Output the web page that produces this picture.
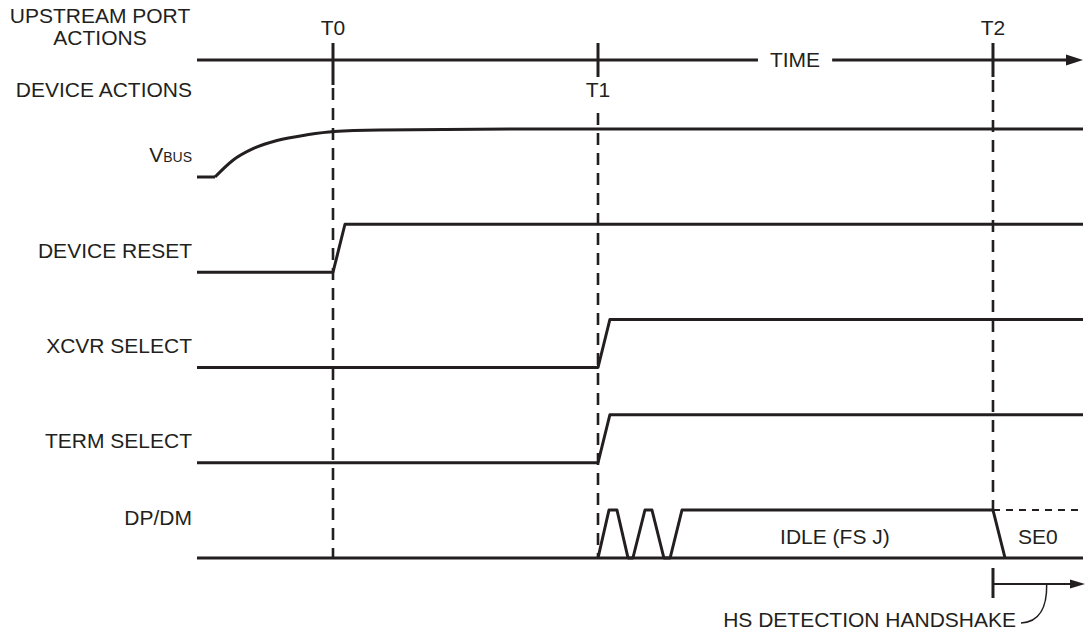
<!DOCTYPE html>
<html>
<head>
<meta charset="utf-8">
<script src="https://cdn.jsdelivr.net/npm/d3@7"></script>
<style>
	body { margin: 0; background: #fff; }
	text { font-family: "Liberation Sans", Arial, sans-serif; fill: #231f20; }
</style>
</head>
<body>
<div id="wrapper"></div>
<script>
// time is in arbitrary units, 0 = left edge of the diagram, 100 = arrow tip
const signals = ["VBUS", "DEVICE RESET", "XCVR SELECT", "TERM SELECT", "DP/DM"];
const markerNames = ["T0", "T1", "T2"];
const markerTimes = [15.35, 45.26, 89.84];

// [time, level] pairs, level 0 = low, 1 = high
const vbusWave = [
	[0, 0], [2.03, 0], [4.06, 0.35], [6.32, 0.59], [9.03, 0.76],
	[12.42, 0.88], [15.46, 0.95], [20.65, 0.98], [36.5, 1], [100, 1],
];
const resetWave = [[0, 0], [15.35, 0], [16.7, 1], [100, 1]];
const xcvrWave = [[0, 0], [45.26, 0], [46.6, 1], [100, 1]];
const termWave = [[0, 0], [45.26, 0], [46.6, 1], [100, 1]];
const dpBase = [[0, 0], [100, 0]];
const dpWave = [
	[45.26, 0], [46.5, 1], [47.4, 1], [48.65, 0],
	[49.2, 0], [50.56, 1], [51.35, 1], [52.7, 0],
	[53.4, 0], [54.74, 1], [89.84, 1], [91.2, 0],
];
const se0Wave = [[89.84, 1], [100, 1]];

const timeLabel = "TIME";
const idleLabel = "IDLE (FS J)";
const se0Label = "SE0";
const hsLabel = "HS DETECTION HANDSHAKE";

const drawChart = () => {
	const dimensions = {
		width: 1085,
		height: 633,
		left: 197,
		right: 1083,
		axisY: 60,
		firstRow: 177,
		lastRow: 558,
		levelHeight: 48,
		labelRight: 192,
	};
	const ink = "#231f20";
	const fontSize = 21;

	const svg = d3
		.select("#wrapper")
		.append("svg")
		.attr("width", dimensions.width)
		.attr("height", dimensions.height);

	// scales
	const xScale = d3
		.scaleLinear()
		.domain([0, 100])
		.range([dimensions.left, dimensions.right]);

	const rowScale = d3
		.scalePoint()
		.domain(signals)
		.range([dimensions.firstRow, dimensions.lastRow]);

	const levelScale = d3
		.scaleLinear()
		.domain([0, 1])
		.range([0, -dimensions.levelHeight]);

	const waveLine = (signal) =>
		d3
			.line()
			.x((d) => xScale(d[0]))
			.y((d) => rowScale(signal) + levelScale(d[1]));

	// header labels
	const header = svg.append("g").attr("font-size", fontSize);
	header
		.append("text")
		.attr("x", 100)
		.attr("y", 16)
		.attr("dy", "0.35em")
		.attr("text-anchor", "middle")
		.text("UPSTREAM PORT");
	header
		.append("text")
		.attr("x", 100)
		.attr("y", 38)
		.attr("dy", "0.35em")
		.attr("text-anchor", "middle")
		.text("ACTIONS");
	header
		.append("text")
		.attr("x", dimensions.labelRight)
		.attr("y", 90)
		.attr("dy", "0.35em")
		.attr("text-anchor", "end")
		.text("DEVICE ACTIONS");

	// time axis
	const arrowLen = 17;
	const axis = svg.append("g");
	axis
		.append("line")
		.attr("x1", xScale(0))
		.attr("x2", xScale(100) - arrowLen + 2)
		.attr("y1", dimensions.axisY)
		.attr("y2", dimensions.axisY)
		.attr("stroke", ink)
		.attr("stroke-width", 3);
	axis
		.append("path")
		.attr(
			"d",
			`M${xScale(100)},${dimensions.axisY} l${-arrowLen},-5.5 l0,11 Z`
		)
		.attr("fill", ink);

	const timeText = axis
		.append("text")
		.attr("x", xScale(67.5))
		.attr("y", dimensions.axisY)
		.attr("dy", "0.35em")
		.attr("text-anchor", "middle")
		.attr("font-size", fontSize)
		.text(timeLabel);
	const tb = timeText.node().getBBox();
	axis
		.insert("rect", () => timeText.node())
		.attr("x", tb.x - 12)
		.attr("y", tb.y)
		.attr("width", tb.width + 24)
		.attr("height", tb.height)
		.attr("fill", "#fff");

	// event markers
	const markers = svg
		.append("g")
		.selectAll("g")
		.data(markerTimes)
		.join("g");

	markers
		.append("line")
		.attr("x1", (d) => xScale(d))
		.attr("x2", (d) => xScale(d))
		.attr("y1", 43)
		.attr("y2", (d, i) => (i === 0 ? 85 : 77))
		.attr("stroke", ink)
		.attr("stroke-width", 3);

	markers
		.append("line")
		.attr("x1", (d) => xScale(d))
		.attr("x2", (d) => xScale(d))
		.attr("y1", (d, i) => [88, 113, 80][i])
		.attr("y2", (d, i) =>
			i === 2
				? rowScale("DP/DM") + levelScale(1)
				: rowScale("DP/DM")
		)
		.attr("stroke", ink)
		.attr("stroke-width", 2.6)
		.attr("stroke-dasharray", "12,8");

	markers
		.append("text")
		.attr("x", (d) => xScale(d))
		.attr("y", (d, i) => (i === 1 ? 90 : 28))
		.attr("dy", "0.35em")
		.attr("text-anchor", "middle")
		.attr("font-size", fontSize)
		.text((d, i) => markerNames[i]);

	// signal labels
	const labels = svg
		.append("g")
		.attr("font-size", fontSize)
		.attr("text-anchor", "end")
		.selectAll("text")
		.data(signals)
		.join("text")
		.attr("x", dimensions.labelRight)
		.attr("y", (d) => rowScale(d) - (d === "DP/DM" ? 40 : 22))
		.attr("dy", "0.35em");

	labels
		.filter((d) => d !== "VBUS")
		.text((d) => d);

	const vbus = labels.filter((d) => d === "VBUS");
	vbus.append("tspan").text("V");
	vbus.append("tspan").attr("font-size", 14).text("BUS");

	// waveforms
	const waves = [
		["DEVICE RESET", resetWave],
		["XCVR SELECT", xcvrWave],
		["TERM SELECT", termWave],
		["DP/DM", dpBase],
		["DP/DM", dpWave],
	];

	const wavesGroup = svg
		.append("g")
		.attr("fill", "none")
		.attr("stroke", ink)
		.attr("stroke-width", 3)
		.attr("stroke-linejoin", "round");

	wavesGroup
		.selectAll("path")
		.data(waves)
		.join("path")
		.attr("d", ([signal, data]) => waveLine(signal)(data));

	// vbus: flat start, then a smooth charge curve with a sharp corner
	wavesGroup
		.append("path")
		.attr("d", waveLine("VBUS")(vbusWave.slice(0, 2)));
	wavesGroup
		.append("path")
		.attr("d", waveLine("VBUS").curve(d3.curveMonotoneX)(vbusWave.slice(1)));

	svg
		.append("path")
		.attr("d", waveLine("DP/DM")(se0Wave))
		.attr("fill", "none")
		.attr("stroke", ink)
		.attr("stroke-width", 2.2)
		.attr("stroke-dasharray", "7,6");

	const dpMid = rowScale("DP/DM") + levelScale(0.45);
	svg
		.append("text")
		.attr("x", xScale(72))
		.attr("y", dpMid)
		.attr("dy", "0.35em")
		.attr("text-anchor", "middle")
		.attr("font-size", fontSize)
		.text(idleLabel);
	svg
		.append("text")
		.attr("x", xScale(94.9))
		.attr("y", dpMid)
		.attr("dy", "0.35em")
		.attr("text-anchor", "middle")
		.attr("font-size", fontSize)
		.text(se0Label);

	// hs detection handshake span
	const hsY = 584;
	const t2 = xScale(markerTimes[2]);
	svg
		.append("line")
		.attr("x1", t2)
		.attr("x2", t2)
		.attr("y1", 568)
		.attr("y2", 598)
		.attr("stroke", ink)
		.attr("stroke-width", 3);
	svg
		.append("line")
		.attr("x1", t2)
		.attr("x2", xScale(100) - 12)
		.attr("y1", hsY)
		.attr("y2", hsY)
		.attr("stroke", ink)
		.attr("stroke-width", 2.2);
	svg
		.append("path")
		.attr("d", `M${xScale(100) + 2},${hsY} l-15,-4.5 l0,9 Z`)
		.attr("fill", ink);

	svg
		.append("text")
		.attr("x", 1016)
		.attr("y", 620)
		.attr("dy", "0.35em")
		.attr("text-anchor", "end")
		.attr("font-size", fontSize)
		.text(hsLabel);

	const leader = d3.path();
	leader.moveTo(1021, 623);
	leader.bezierCurveTo(1040, 622, 1047, 606, xScale(95.9), hsY + 1);
	svg
		.append("path")
		.attr("d", leader.toString())
		.attr("fill", "none")
		.attr("stroke", ink)
		.attr("stroke-width", 1.5);
};

drawChart();
</script>
</body>
</html>
